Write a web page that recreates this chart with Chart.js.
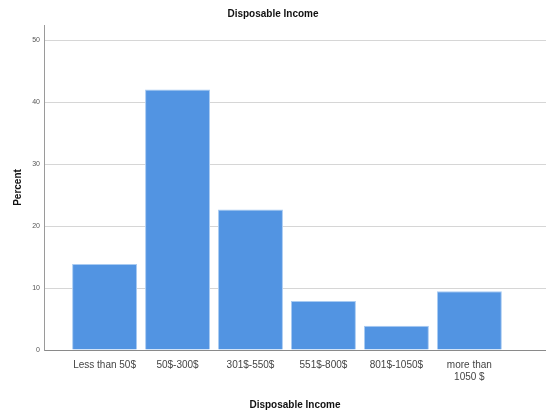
<!DOCTYPE html>
<html>
<head>
<meta charset="utf-8">
<script src="https://cdn.jsdelivr.net/npm/chart.js@4/dist/chart.umd.min.js"></script>
<style>
  html, body { margin: 0; padding: 0; background: #fff; overflow: hidden; }
  canvas { display: block; }
</style>
</head>
<body>
<canvas id="chart" width="546" height="415"></canvas>
<script>
// data
const categories = ["Less than 50$", "50$-300$", "301$-550$", "551$-800$", "801$-1050$", ["more than", "1050 $"]];
const percent = [13.9, 42.1, 22.7, 7.9, 3.9, 9.5];
const yTicks = [0, 10, 20, 30, 40, 50];

const FONT = "'Liberation Sans', Arial, sans-serif";

const ctx = document.getElementById("chart").getContext("2d");
new Chart(ctx, {
  type: "bar",
  data: {
    datasets: [{
      label: "Percent",
      data: percent.map((v, i) => ({ x: i, y: v })),
      backgroundColor: "#5294e2",
      borderColor: "#a9cbf2",
      borderWidth: 1,
      barPercentage: 0.89,
      categoryPercentage: 1
    }]
  },
  options: {
    responsive: false,
    animation: false,
    layout: { padding: 0 },
    plugins: {
      legend: { display: false },
      tooltip: { enabled: false },
      title: {
        display: true,
        text: "Disposable Income",
        color: "#111",
        font: { family: FONT, size: 10, weight: "bold" },
        padding: { top: 8, bottom: 5 }
      }
    },
    scales: {
      x: {
        type: "linear",
        offset: false,
        min: -0.83,
        max: 6.05,
        afterFit: s => { s.height = 65; },
        afterBuildTicks: s => { s.ticks = categories.map((c, i) => ({ value: i })); },
        grid: { display: false, drawTicks: false },
        border: { display: true, color: "#8a8a8a", width: 1 },
        ticks: {
          autoSkip: false,
          maxRotation: 0,
          padding: 9,
          color: "#444",
          font: { family: FONT, size: 10 },
          callback: v => categories[v] || ""
        },
        title: {
          display: true,
          text: "Disposable Income",
          color: "#111",
          font: { family: FONT, size: 10, weight: "bold" },
          padding: { top: 0, bottom: 4 }
        }
      },
      y: {
        min: 0,
        max: 52.5,
        afterFit: s => { s.width = 44; },
        afterBuildTicks: s => { s.ticks = yTicks.map(v => ({ value: v })); },
        grid: {
          drawTicks: false,
          color: c => c.tick && c.tick.value === 0 ? "rgba(0,0,0,0)" : "#d6d6d6",
          lineWidth: 1
        },
        border: { display: true, color: "#9a9a9a", width: 1 },
        ticks: {
          padding: 4,
          color: "#555",
          font: { family: FONT, size: 7 }
        },
        title: {
          display: true,
          text: "Percent",
          color: "#111",
          font: { family: FONT, size: 10, weight: "bold" },
          padding: { top: 12, bottom: 0 }
        }
      }
    }
  }
});
</script>
</body>
</html>
